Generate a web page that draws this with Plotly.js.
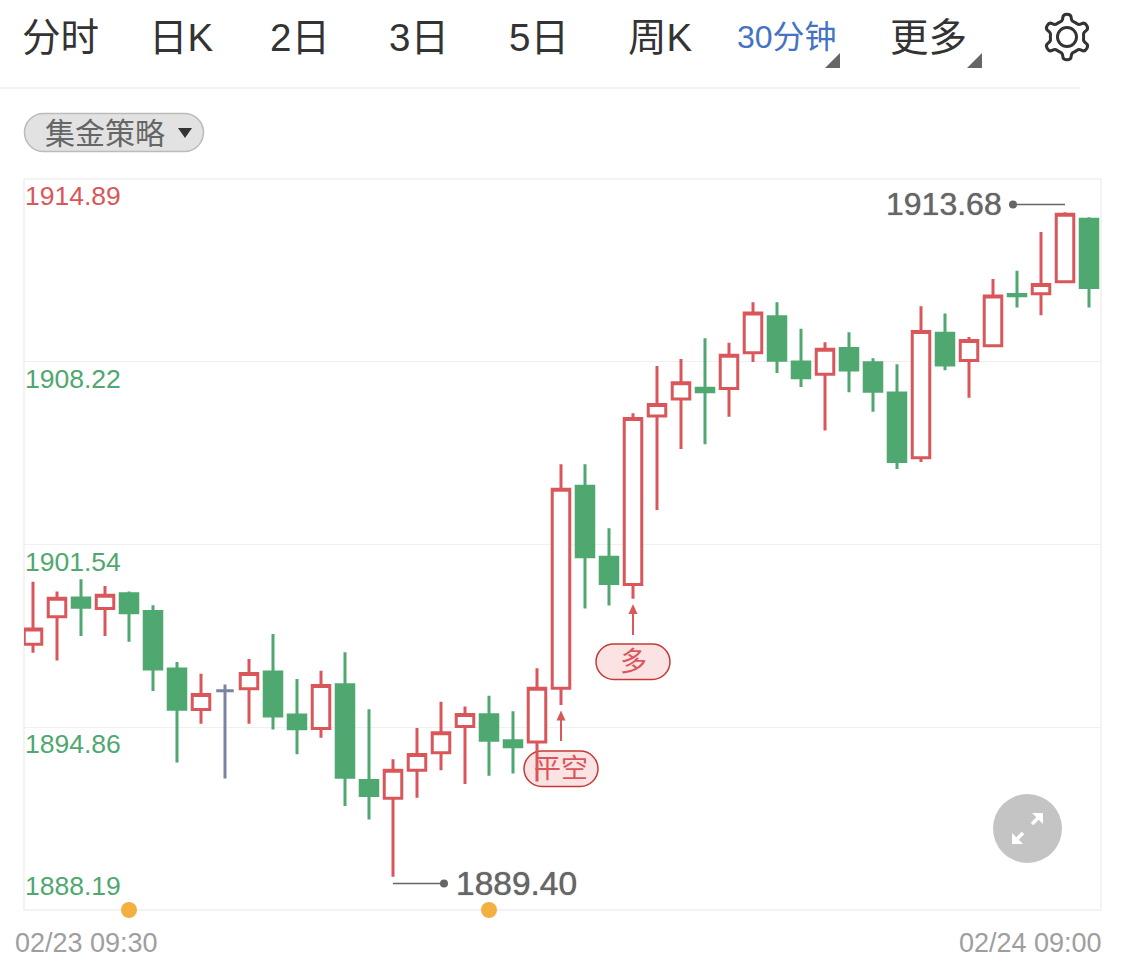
<!DOCTYPE html>
<html>
<head>
<meta charset="utf-8">
<script src="https://cdn.plot.ly/plotly-3.0.1.min.js"></script>
<style>html,body{margin:0;padding:0;background:#fff;overflow:hidden}#chart{width:1125px;height:975px}</style>
</head>
<body>
<div id="chart"></div>
<script>
const opens  = [1897.90,1898.90,1899.59,1899.20,1899.74,1899.09,1896.99,1895.51,1896.20,1896.27,1896.88,1895.31,1894.82,1896.42,1892.92,1892.27,1893.29,1893.93,1894.89,1895.32,1894.37,1894.33,1896.29,1903.67,1901.07,1900.08,1906.23,1906.85,1907.25,1907.24,1908.54,1909.86,1908.21,1907.76,1908.70,1908.18,1907.07,1904.71,1909.26,1908.26,1908.80,1910.67,1910.70,1911.14,1913.42];
const closes = [1898.45,1899.58,1899.25,1899.69,1899.05,1896.99,1895.52,1896.06,1896.20,1896.83,1895.28,1894.81,1896.39,1893.04,1892.37,1893.29,1893.87,1894.66,1895.33,1894.39,1894.15,1896.29,1903.56,1901.09,1900.12,1906.14,1906.65,1907.45,1907.12,1908.45,1910.00,1908.27,1907.63,1908.67,1907.91,1907.14,1904.57,1909.32,1908.10,1908.99,1910.62,1910.63,1911.04,1913.60,1910.93];
const highs  = [1900.18,1899.82,1900.27,1900.02,1899.82,1899.32,1897.25,1896.82,1896.43,1897.36,1898.27,1896.63,1896.93,1897.60,1895.52,1893.70,1894.84,1895.80,1895.62,1896.02,1895.45,1897.02,1904.47,1904.47,1902.13,1906.33,1908.06,1908.32,1909.07,1908.91,1910.39,1910.39,1909.42,1908.93,1909.29,1908.34,1908.12,1910.24,1909.98,1909.12,1911.24,1911.54,1912.95,1913.68,1913.49];
const lows   = [1897.59,1897.30,1898.20,1898.20,1897.99,1896.19,1893.58,1894.99,1892.99,1894.99,1894.78,1893.88,1894.48,1891.99,1891.50,1889.40,1892.29,1893.29,1892.79,1893.09,1893.18,1892.88,1895.68,1899.20,1899.31,1899.56,1902.80,1905.03,1905.20,1906.21,1908.21,1907.80,1907.29,1905.70,1907.10,1906.39,1904.30,1904.55,1907.90,1906.90,1908.78,1910.20,1909.91,1911.10,1910.20];
const yTicks = [1914.89,1908.22,1901.54,1894.86,1888.19];
const yTickLabels = ['1914.89','1908.22','1901.54','1894.86','1888.19'];
const yTickColors = ['#d9575a','#4ea86f','#4ea86f','#4ea86f','#4ea86f'];
const dateLabels = ['02/23 09:30','02/24 09:00'];
const navLabels = ['分时','日K','2日','3日','5日','周K','30分钟','更多'];
const navCenters = [60,181,300,419,539,660,787,928];
const newsIdx = [4,19];
const highIdx = 43, lowIdx = 15;
const signals = [{i:22,text:'平空',top:751,apex:710.5,tail:741},{i:25,text:'多',top:644,apex:604,tail:635}];

const RED='#d9575a', GREEN='#4ea86f', FLAT='#7a83a0', GRAY='#666666';
const FONT='"Liberation Sans","Noto Sans CJK SC",sans-serif';
const L=24,R=1101,T=179,B=910;
const PX=x=>(x-L)/(R-L), PY=y=>(B-y)/(B-T);
const cx=i=>33+24*i;
const idx=opens.map((_,i)=>i);
const flat=idx.filter(i=>opens[i]===closes[i]);
const normal=idx.filter(i=>opens[i]!==closes[i]);
const pick=(a,s)=>s.map(i=>a[i]);
const P=(x,y)=>PX(x).toFixed(5)+','+PY(y).toFixed(5);

function poly(pts,close){return pts.map((p,i)=>(i?'L':'M')+P(p[0],p[1])).join(' ')+(close?' Z':'');}
function pillPath(x0,y0,x1,y1){
  const r=(y1-y0)/2, k=r*0.45;
  return 'M'+P(x0+r,y0)+' L'+P(x1-r,y0)+' C'+P(x1-k,y0)+' '+P(x1,y0+k)+' '+P(x1,y0+r)+' C'+P(x1,y1-k)+' '+P(x1-k,y1)+' '+P(x1-r,y1)+' L'+P(x0+r,y1)+' C'+P(x0+k,y1)+' '+P(x0,y1-k)+' '+P(x0,y0+r)+' C'+P(x0,y0+k)+' '+P(x0+k,y0)+' '+P(x0+r,y0)+' Z';
}
function gear(cxp,cyp,ro,ri){
  const pts=[];
  for(let n=0;n<6;n++){
    const a=-90+60*n;
    [[-30,ri],[-15,ri],[-10,ro],[10,ro],[15,ri]].forEach(([d,r])=>{
      const t=(a+d)*Math.PI/180; pts.push([cxp+r*Math.cos(t),cyp+r*Math.sin(t)]);
    });
  }
  const mid=(p,q)=>[(p[0]+q[0])/2,(p[1]+q[1])/2];
  let d='M'+P(...mid(pts[pts.length-1],pts[0]));
  pts.forEach((p,i)=>{const m=mid(p,pts[(i+1)%pts.length]);d+=' Q'+P(p[0],p[1])+' '+P(m[0],m[1]);});
  return d+' Z';
}
const px=(x,y)=>({xref:'paper',yref:'paper',x:PX(x),y:PY(y)});
const shapePath=(path,fill,color,width,layer)=>({type:'path',xref:'paper',yref:'paper',path,fillcolor:fill,line:{color:color,width:width},layer:layer||'above'});
const pxLine=(x0,y0,x1,y1,color,w,layer)=>({type:'line',xref:'paper',yref:'paper',x0:PX(x0),y0:PY(y0),x1:PX(x1),y1:PY(y1),line:{color,width:w},layer:layer||'above'});
const pxCircle=(x,y,r,ry,fill,layer)=>({type:'circle',xref:'paper',yref:'paper',x0:PX(x-r),x1:PX(x+r),y0:PY(y+ry),y1:PY(y-ry),fillcolor:fill,line:{width:0},layer:layer||'above'});
const text=(t,x,y,size,color,xanchor)=>Object.assign(px(x,y),{text:t,showarrow:false,xanchor:xanchor||'center',yanchor:'middle',borderpad:0,font:{family:FONT,size,color}});

const shapes=[], annotations=[];
// frame
shapes.push({type:'rect',xref:'paper',yref:'paper',x0:0,x1:1,y0:0,y1:1,fillcolor:'rgba(0,0,0,0)',line:{color:'#f0f0f0',width:1.5},layer:'below'});
// nav
navLabels.forEach((t,i)=>annotations.push(text(t,navCenters[i],37,i===6?32:38.5,i===6?'#4472c4':'#333333')));
shapes.push(shapePath(poly([[840,53],[840,68],[825,68]],true),GRAY,GRAY,0));
shapes.push(shapePath(poly([[982,53],[982,68],[967,68]],true),GRAY,GRAY,0));
shapes.push(shapePath(gear(1067,37,23.2,16.8),'rgba(0,0,0,0)','#333333',3));
shapes.push(shapePath(pillPath(1057.5,27.5,1076.5,46.5),'rgba(0,0,0,0)','#333333',3));
shapes.push(pxLine(0,88,1080,88,'#f2f2f2',2));
// strategy pill
shapes.push(shapePath(pillPath(24.5,113.5,203.5,151.5),'#e2e2e2','#bbbbbb',1.5));
annotations.push(text('集金策略',105,133,30,GRAY));
shapes.push(shapePath(poly([[178,128],[192,128],[185,138]],true),'#333333','#333333',0));
// y tick labels
yTicks.forEach((v,i)=>annotations.push({
  xref:'paper',x:PX(25),yref:'y',y:v,text:yTickLabels[i],showarrow:false,xanchor:'left',yanchor:'middle',borderpad:0,
  yshift:i===yTicks.length-1?24:-17,xshift:-1,font:{family:FONT,size:26.5,color:yTickColors[i]}
}));
// date labels
annotations.push(text(dateLabels[0],14,943,27,'#9e9e9e','left'));
annotations.push(text(dateLabels[1],1103,943,27,'#9e9e9e','right'));
// extremes, offset from the candle extreme by a few pixels
const pxUnit=(yTicks[0]-yTicks[4])/(B-T);
const hy=highs[highIdx]+7.7*pxUnit, ly=lows[lowIdx]-6.7*pxUnit;
const dotHigh=(1013-33)/24, dotLow=(444-33)/24;
shapes.push({type:'line',xref:'x',yref:'y',x0:highIdx,x1:dotHigh,y0:hy,y1:hy,line:{color:GRAY,width:1.5},layer:'above'});
shapes.push({type:'line',xref:'x',yref:'y',x0:lowIdx,x1:dotLow,y0:ly,y1:ly,line:{color:GRAY,width:1.5},layer:'above'});
const bigFont=size=>({family:FONT,size,color:GRAY,shadow:'0 0 1px #666666'});
annotations.push({xref:'x',yref:'y',x:dotHigh,y:hy,text:highs[highIdx].toFixed(2),showarrow:false,xanchor:'right',yanchor:'middle',borderpad:0,xshift:-10,font:bigFont(32)});
annotations.push({xref:'x',yref:'y',x:dotLow,y:ly,text:lows[lowIdx].toFixed(2),showarrow:false,xanchor:'left',yanchor:'middle',borderpad:0,xshift:11,font:bigFont(33.5)});
// signals
signals.forEach(s=>{
  const c=cx(s.i);
  shapes.push(shapePath(pillPath(c-37,s.top,c+37,s.top+35.5),'#fbe3e3','#c23b36',1.5,'below'));
  annotations.push(text(s.text,c,s.top+18,27,RED));
  shapes.push(pxLine(c,s.tail,c,s.apex+9,RED,2));
  shapes.push(shapePath(poly([[c,s.apex],[c+4.5,s.apex+10],[c-4.5,s.apex+10]],true),RED,RED,0));
});
// expand button
shapes.push(pxCircle(1027.5,828.5,34.5,34.5,'#c4c4c4'));
shapes.push(pxLine(1015,841,1023,833,'#ffffff',3.5));
shapes.push(pxLine(1032,824,1040,816,'#ffffff',3.5));
shapes.push(shapePath(poly([[1012,844],[1012,833],[1023,844]],true),'#ffffff','#ffffff',0));
shapes.push(shapePath(poly([[1043,813],[1043,824],[1032,813]],true),'#ffffff','#ffffff',0));

const candle=(s,upLine,upFill,dnLine,dnFill)=>({
  type:'candlestick',x:s,open:pick(opens,s),high:pick(highs,s),low:pick(lows,s),close:pick(closes,s),
  increasing:{line:{color:upLine,width:3},fillcolor:upFill},
  decreasing:{line:{color:dnLine,width:3},fillcolor:dnFill},
  whiskerwidth:0,hoverinfo:'skip',showlegend:false
});
const traces=[
  candle(normal,RED,'#ffffff',GREEN,GREEN),
  candle(flat,FLAT,FLAT,FLAT,FLAT),
  {type:'scatter',mode:'markers',x:newsIdx,y:newsIdx.map(()=>yTicks[4]),cliponaxis:false,
   marker:{color:'#f2b040',size:16},hoverinfo:'skip',showlegend:false},
  {type:'scatter',mode:'markers',x:[dotHigh,dotLow],y:[hy,ly],cliponaxis:false,
   marker:{color:GRAY,size:8},hoverinfo:'skip',showlegend:false}
];
const layout={
  width:1125,height:975,margin:{l:L,r:1125-R,t:T,b:975-B,pad:0},
  paper_bgcolor:'#ffffff',plot_bgcolor:'#ffffff',showlegend:false,boxgap:0.27,boxgroupgap:0,hovermode:false,
  font:{family:FONT},
  xaxis:{type:'linear',range:[(L-33)/24,(R-33)/24],rangeslider:{visible:false},showgrid:false,zeroline:false,
         showticklabels:false,ticks:'',showline:false},
  yaxis:{type:'linear',range:[yTicks[4],yTicks[0]],tickvals:yTicks,showticklabels:false,ticks:'',showgrid:true,
         gridcolor:'#f0f0f0',gridwidth:1.5,zeroline:false,showline:false},
  shapes,annotations
};
Plotly.newPlot('chart',traces,layout,{displayModeBar:false,staticPlot:true});
</script>
</body>
</html>
